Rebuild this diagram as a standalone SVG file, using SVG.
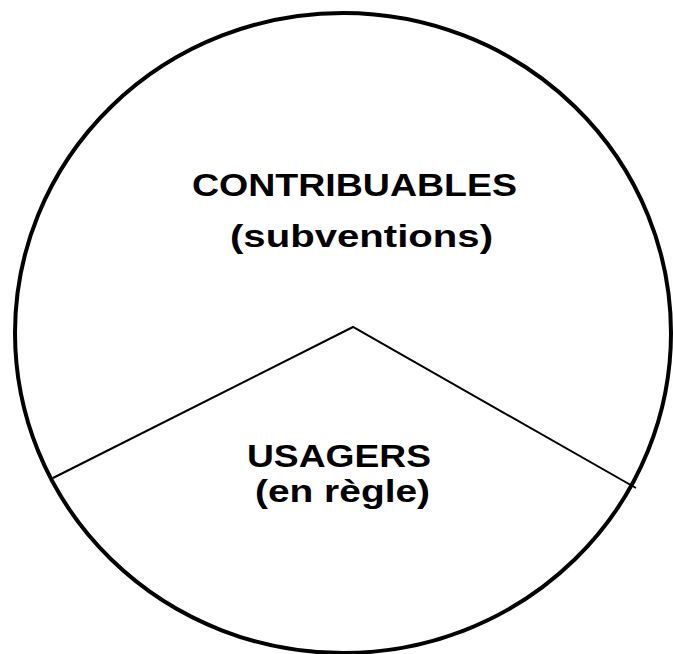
<svg xmlns="http://www.w3.org/2000/svg" width="673" height="654" viewBox="0 0 673 654">
  <style>
    .outline { fill: none; stroke: #000; stroke-width: 4; }
    .divider { fill: none; stroke: #000; stroke-width: 2; stroke-linejoin: miter; }
    .label { font-family: "Liberation Sans", Arial, Helvetica, sans-serif; font-weight: bold; font-size: 31px; fill: #000; }
  </style>
  <rect width="673" height="654" fill="#fff"/>
  <!-- outer disc -->
  <g id="disc">
    <ellipse class="outline" cx="343" cy="333" rx="328" ry="320"/>
  </g>
  <!-- slice boundaries -->
  <g id="connectors">
    <polyline class="divider" points="53,478 353,327 636,488"/>
  </g>
  <g id="contribuables">
    <text class="label" x="192" y="196" textLength="325" lengthAdjust="spacingAndGlyphs">CONTRIBUABLES</text>
    <text class="label" x="230" y="247" textLength="263" lengthAdjust="spacingAndGlyphs">(subventions)</text>
  </g>
  <g id="usagers">
    <text class="label" x="247" y="467" textLength="184" lengthAdjust="spacingAndGlyphs">USAGERS</text>
    <text class="label" x="255" y="502" textLength="175" lengthAdjust="spacingAndGlyphs">(en règle)</text>
  </g>
</svg>
